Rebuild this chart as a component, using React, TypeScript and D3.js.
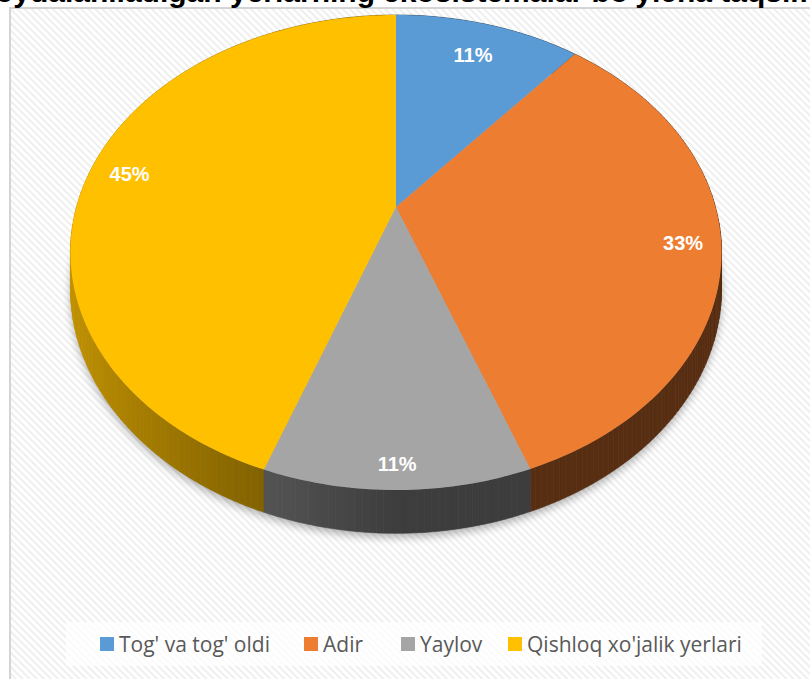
import React from "react";
import * as d3 from "d3";

const titleStart = "Hududda foydalaniladigan yerlarning";
const titleEnd = "ekosistemalar bo'yicha taqsimoti";
const categories = ["Tog' va tog' oldi", "Adir", "Yaylov", "Qishloq xo'jalik yerlari"];
const values = [11.1, 33.3, 11.1, 44.5];
const colors = ["#5B9BD5", "#ED7D31", "#A5A5A5", "#FFC000"];

const W = 810;
const H = 679;
const cx = 396;
const cy = 207;
const Rx = 319.5;
const Ry = 228.8;
const K = 0.1916;
const DEPTH = 35;

function proj(theta: number, r: number, z: number): [number, number] {
  const u = r * Math.sin(theta);
  const v = r * Math.cos(theta);
  const w = 1 + K * v;
  return [cx + (Rx * u) / w, cy - (Ry * v) / w + (z * DEPTH) / w];
}

function shadeFactor(theta: number) {
  return 0.37 + 0.41 * Math.max(0, -Math.sin(theta));
}

export default function App() {
  const pie = d3.pie<number>().sort(null).value((d) => d)(values);
  const step = Math.PI / 180;
  const line = d3.line();

  const walls: { d: string; fill: string; depth: number }[] = [];
  pie.forEach((s, i) => {
    const base = d3.rgb(colors[i]);
    for (let t = s.startAngle; t < s.endAngle - 1e-9; t += step) {
      const t2 = Math.min(t + step, s.endAngle);
      const p1 = proj(t, 1, 0);
      const p2 = proj(t2, 1, 0);
      const p3 = proj(t2, 1, 1);
      const p4 = proj(t, 1, 1);
      const f = shadeFactor((t + t2) / 2);
      const c = d3.rgb(base.r * f, base.g * f, base.b * f).formatHex();
      walls.push({ d: line([p1, p2, p3, p4])! + "Z", fill: c, depth: Math.cos((t + t2) / 2) });
    }
  });
  walls.sort((a, b) => b.depth - a.depth);

  const tops = pie.map((s, i) => {
    const pts: [number, number][] = [[cx, cy]];
    const n = Math.max(2, Math.ceil((s.endAngle - s.startAngle) / step));
    d3.range(n + 1).forEach((j) => {
      const t = s.startAngle + ((s.endAngle - s.startAngle) * j) / n;
      pts.push(proj(t, 1, 0));
    });
    return { d: line(pts)! + "Z", fill: colors[i] };
  });

  const fullBottom = d3.range(361).map((j) => proj((j * Math.PI) / 180, 1, 1));
  const shadowPath = line(fullBottom)! + "Z";

  const labelFont = 20;
  const labels = pie.map((s, i) => {
    const mid = (s.startAngle + s.endAngle) / 2;
    const [rx, ry] = proj(mid, 1, 0);
    const dx = cx - rx;
    const dy = cy - ry;
    const len = Math.hypot(dx, dy);
    const ux = dx / len;
    const uy = dy / len;
    const text = Math.round(values[i]) + "%";
    const halfW = text.length * labelFont * 0.33;
    const halfH = labelFont * 0.4;
    const inset = 18 + Math.abs(ux) * halfW + Math.abs(uy) * halfH;
    return { x: rx + ux * inset, y: ry + uy * inset, text };
  });

  const legendY = 644;
  const legendStarts = [100, 304, 401, 508];

  return (
    <svg width={W} height={H} style={{ position: "absolute", left: 0, top: 0 }} xmlns="http://www.w3.org/2000/svg">
      <defs>
        <pattern id="hatch" width="5" height="5" patternUnits="userSpaceOnUse" patternTransform="rotate(-45)">
          <rect width="5" height="5" fill="#ffffff" />
          <rect width="2" height="5" fill="#efefef" />
        </pattern>
        <filter id="shadow" x="-20%" y="-20%" width="140%" height="140%">
          <feGaussianBlur stdDeviation="4" />
        </filter>
      </defs>
      <rect x={0} y={0} width={W} height={H} fill="#ffffff" />
      <rect x={10} y={8} width={W + 20} height={H + 20} fill="url(#hatch)" stroke="#d4d4d4" strokeWidth={2} />
      <text x={375} y={2} textAnchor="end" fontFamily="Liberation Sans, Arial, sans-serif" fontWeight="bold" fontSize={30} fill="#000">
        {titleStart}
      </text>
      <text x={383} y={2} fontFamily="Liberation Sans, Arial, sans-serif" fontWeight="bold" fontSize={30} fill="#000">
        {titleEnd}
      </text>
      <path d={shadowPath} transform="translate(0,4)" fill="#000" opacity={0.3} filter="url(#shadow)" />
      {walls.map((w, i) => (
        <path key={"w" + i} d={w.d} fill={w.fill} stroke={w.fill} strokeWidth={0.6} />
      ))}
      {tops.map((t, i) => (
        <path key={"t" + i} d={t.d} fill={t.fill} />
      ))}
      {labels.map((l, i) => (
        <text
          key={"l" + i}
          x={l.x}
          y={l.y}
          textAnchor="middle"
          dominantBaseline="central"
          fontFamily="Liberation Sans, Arial, sans-serif"
          fontWeight="bold"
          fontSize={labelFont}
          fill="#ffffff"
        >
          {l.text}
        </text>
      ))}
      <rect x={66} y={622} width={696} height={44} fill="#ffffff" opacity={0.75} />
      {categories.map((c, i) => (
        <g key={"lg" + i} transform={`translate(${legendStarts[i]},${legendY})`}>
          <rect x={0} y={-7} width={14} height={14} fill={colors[i]} />
          <text x={19} y={0} dominantBaseline="central" fontFamily="Open Sans, sans-serif" fontSize={21} fill="#595959">
            {c}
          </text>
        </g>
      ))}
    </svg>
  );
}
